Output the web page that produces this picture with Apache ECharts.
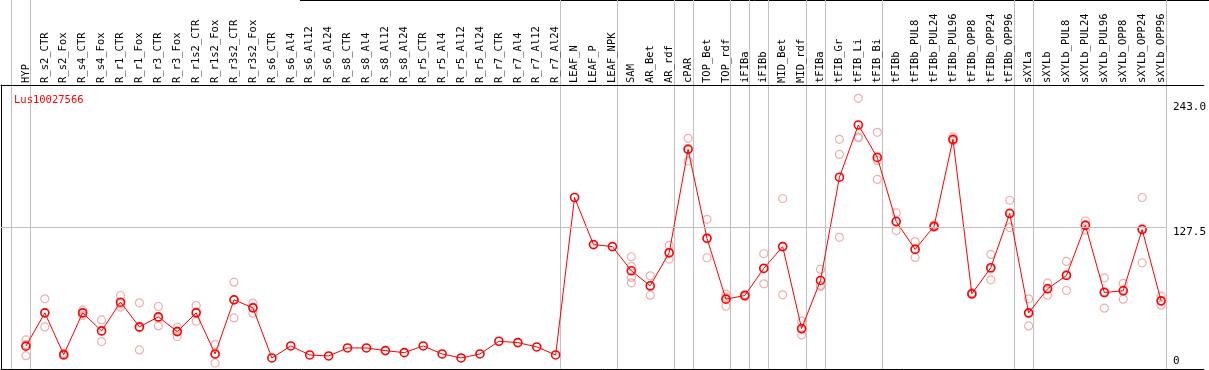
<!DOCTYPE html>
<html><head><meta charset="utf-8">
<script src="https://cdn.jsdelivr.net/npm/echarts@6/dist/echarts.min.js"></script>
<style>html,body{margin:0;padding:0;background:#fff;overflow:hidden}#c{width:1209px;height:370px}</style>
</head><body><div id="c"></div>
<script>
const geneId = 'Lus10027566';
const categories = ['HYP','R_s2_CTR','R_s2_Fox','R_s4_CTR','R_s4_Fox','R_r1_CTR','R_r1_Fox','R_r3_CTR','R_r3_Fox','R_r1s2_CTR','R_r1s2_Fox','R_r3s2_CTR','R_r3s2_Fox','R_s6_CTR','R_s6_Al4','R_s6_Al12','R_s6_Al24','R_s8_CTR','R_s8_Al4','R_s8_Al12','R_s8_Al24','R_r5_CTR','R_r5_Al4','R_r5_Al12','R_r5_Al24','R_r7_CTR','R_r7_Al4','R_r7_Al12','R_r7_Al24','LEAF_N','LEAF_P','LEAF_NPK','SAM','AR_Bet','AR_rdf','cPAR','TOP_Bet','TOP_rdf','iFIBa','iFIBb','MID_Bet','MID_rdf','tFIBa','tFIB_Gr','tFIB_Li','tFIB_Bi','tFIBb','tFIBb_PUL8','tFIBb_PUL24','tFIBb_PUL96','tFIBb_OPP8','tFIBb_OPP24','tFIBb_OPP96','sXYLa','sXYLb','sXYLb_PUL8','sXYLb_PUL24','sXYLb_PUL96','sXYLb_OPP8','sXYLb_OPP24','sXYLb_OPP96'];
const means = [20.5,50.4,12.9,50.4,34.2,60.0,37.8,46.8,33.6,50.4,13.5,62.1,54.9,9.9,20.7,12.6,11.7,18.9,18.9,16.5,14.7,20.7,13.5,9.9,13.5,24.9,23.7,19.8,12.6,154.0,111.7,109.9,88.2,74.7,104.4,197.2,117.3,62.7,66.0,90.3,109.9,36.3,79.5,172.2,219.1,190.0,132.4,107.4,128.1,206.2,67.5,90.9,139.6,50.4,72.0,84.0,129.0,68.7,70.2,125.2,61.2];
const N = null;
const repA = [26.1,63.0,14.0,52.8,44.1,66.0,59.4,56.1,37.5,57.0,21.9,78.0,59.1,N,N,N,N,N,N,N,N,N,N,N,N,N,N,N,N,N,N,N,100.8,83.7,111.0,207.1,134.4,67.2,67.0,103.5,153.1,42.9,89.4,206.2,243.0,212.5,140.1,114.4,129.5,208.5,68.5,102.9,151.5,63.0,77.1,96.6,132.9,81.9,76.8,154.0,65.4];
const repB = [12.0,37.8,12.0,48.0,24.6,55.5,17.1,38.7,29.1,42.9,5.4,45.9,50.1,N,N,N,N,N,N,N,N,N,N,N,N,N,N,N,N,N,N,N,77.4,66.3,98.7,186.7,99.9,56.4,65.0,76.5,66.6,30.6,74.1,118.2,207.6,170.2,124.3,100.2,127.0,205.0,66.8,80.1,127.0,38.7,66.3,70.5,124.5,54.6,62.7,95.4,57.3];
const repC = [21.9,50.4,12.7,50.4,34.0,58.5,37.0,45.6,34.2,51.3,13.2,62.4,55.5,N,N,N,N,N,N,N,N,N,N,N,N,N,N,N,N,N,N,N,92.1,74.1,103.5,197.8,117.6,64.5,66.0,90.9,110.0,35.4,75.0,192.7,208.3,187.3,132.8,107.6,127.8,205.1,67.2,89.7,140.3,49.5,72.6,85.0,129.6,69.6,71.1,126.2,61.0];
const repD = [N,N,N,N,N,N,N,N,N,N,N,N,N,N,N,N,N,N,N,N,N,N,N,N,N,N,N,N,N,N,N,N,82.2,N,N,N,N,N,N,N,N,N,N,N,N,N,N,N,N,N,N,N,N,N,N,N,N,N,N,N,N];
const separators = [-0.8,0.25,28.25,31.25,34.25,35.25,37.25,38.25,39.25,41.25,42.25,45.25,52.25,53.25,60.25];
const yTopLabels = [243.0, 127.5];
const yBottomLabels = [0];
const yMax = 255;

const FONT = 'DejaVu Sans Mono';
const xMin = -25/19, xMax = 1183/19;

const meanData = means.map((v,i)=>[i,v]);
const repData = [];
[repA,repB,repC,repD].forEach(arr=>arr.forEach((v,i)=>{ if(v!==null) repData.push([i,v]); }));

const chart = echarts.init(document.getElementById('c'), null, {renderer:'canvas'});
chart.setOption({
  animation:false,
  backgroundColor:'#fff',
  title:{text:geneId, left:9, top:90, textStyle:{color:'#f00', fontSize:10.5, fontWeight:'normal', fontFamily:FONT}},
  graphic:[{type:'line', shape:{x1:300,y1:0.5,x2:1209,y2:0.5}, style:{stroke:'#000', lineWidth:1}, silent:true}],
  grid:{left:1, right:0, top:85, bottom:1, containLabel:false},
  xAxis:[
    {type:'value', position:'top', min:xMin, max:xMax,
     axisLine:{show:true, onZero:false, lineStyle:{color:'#000', width:1}},
     axisTick:{show:true, inside:false, length:85, customValues:separators, lineStyle:{color:'#c0c0c0'}},
     splitLine:{show:true, lineStyle:{color:'#c0c0c0', width:1}},
     axisLabel:{show:true, rotate:-90, margin:2, customValues:categories.map((c,i)=>i),
       formatter:(v)=>categories[Math.round(v)] || '', fontFamily:FONT, fontSize:10.5, color:'#000', hideOverlap:false}},
    {type:'value', position:'bottom', min:xMin, max:xMax,
     axisLine:{show:true, onZero:false, lineStyle:{color:'#000', width:1}}, axisTick:{show:false}, axisLabel:{show:false}, splitLine:{show:false}}
  ],
  yAxis:[
    {type:'value', position:'left', min:0, max:yMax, axisLine:{show:true, onZero:false, lineStyle:{color:'#000'}}, axisTick:{show:false}, axisLabel:{show:false}, splitLine:{show:false}},
    {type:'value', position:'right', min:0, max:yMax, axisLine:{show:false, onZero:false}, axisTick:{show:false}, splitLine:{show:false},
     axisLabel:{inside:true, align:'left', margin:31, verticalAlign:'top', customValues:yTopLabels,
       formatter:(v)=> v===yTopLabels[0] ? '{d|'+v.toFixed(1)+'}' : v.toFixed(1),
       rich:{d:{padding:[3,0,0,0], fontFamily:FONT, fontSize:11, color:'#000'}},
       fontFamily:FONT, fontSize:11, color:'#000'}},
    {type:'value', position:'right', min:0, max:yMax, axisLine:{show:false, onZero:false}, axisTick:{show:false}, splitLine:{show:false},
     axisLabel:{inside:true, align:'left', margin:31, verticalAlign:'bottom', customValues:yBottomLabels,
       formatter:(v)=>String(v), fontFamily:FONT, fontSize:11, color:'#000', padding:[0,0,2,0]}}
  ],
  series:[
    {type:'scatter', xAxisIndex:0, yAxisIndex:0, data:repData, symbol:'circle', symbolSize:8, z:2,
     itemStyle:{color:'rgba(0,0,0,0)', borderColor:'#ee9a9a', borderWidth:1.2}, emphasis:{disabled:true}, silent:true,
     markLine:{silent:true, symbol:'none', label:{show:false}, lineStyle:{color:'#c0c0c0', type:'solid', width:1},
       data:[[{coord:[xMin, yTopLabels[1]]},{coord:[separators[separators.length-1], yTopLabels[1]]}]]}},
    {type:'line', xAxisIndex:0, yAxisIndex:0, data:meanData, symbol:'circle', symbolSize:8, showAllSymbol:true, z:3,
     lineStyle:{color:'#f00', width:1}, itemStyle:{color:'rgba(0,0,0,0)', borderColor:'#f00', borderWidth:1.6},
     emphasis:{disabled:true}, silent:true}
  ]
});
</script></body></html>
